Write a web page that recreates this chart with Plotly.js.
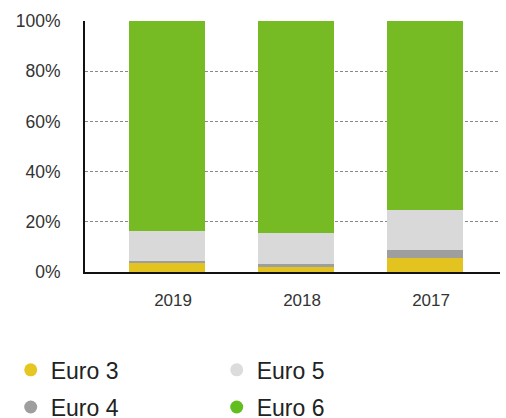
<!DOCTYPE html>
<html>
<head>
<meta charset="utf-8">
<script src="https://cdn.plot.ly/plotly-3.0.1.min.js"></script>
<style>html,body{margin:0;padding:0;background:#fff;}#chart{width:506px;height:418px;}</style>
</head>
<body>
<div id="chart"></div>
<script>
const years = ['2019', '2018', '2017'];
const euro3 = [3.7, 2.0, 5.7];
const euro4 = [0.8, 1.2, 3.1];
const euro5 = [11.9, 12.3, 16.0];
const euro6 = [83.6, 84.5, 75.2];
const seriesNames = ['Euro 3', 'Euro 4', 'Euro 5', 'Euro 6'];
const barColors = ['#E3C31F', '#9E9E9E', '#D9D9D9', '#76BA24'];
const legendColors = ['#E6C623', '#9E9E9E', '#DCDCDC', '#62BD1E'];
const legendIds = ['legend', 'legend2', 'legend', 'legend2'];
const values = [euro3, euro4, euro5, euro6];

const traces = [];
values.forEach((v, i) => {
  traces.push({
    type: 'bar', x: years, y: v, name: seriesNames[i],
    marker: {color: barColors[i], line: {width: 0}},
    showlegend: false, hoverinfo: 'skip'
  });
});
values.forEach((v, i) => {
  traces.push({
    type: 'scatter', mode: 'markers', x: [null], y: [null], name: seriesNames[i],
    marker: {color: legendColors[i], size: 13, symbol: 'circle'},
    legend: legendIds[i], showlegend: true, hoverinfo: 'skip'
  });
});

const legendFont = {family: 'Liberation Sans, Arial, sans-serif', size: 23, color: '#222'};
const layout = {
  width: 506, height: 418,
  margin: {l: 85, r: 6, t: 21, b: 146, autoexpand: false},
  paper_bgcolor: '#fff', plot_bgcolor: '#fff',
  barmode: 'stack', bargap: 0.41,
  hovermode: false,
  font: {family: 'Liberation Sans, Arial, sans-serif', color: '#333'},
  xaxis: {
    type: 'category', range: [-0.636, 2.581],
    showline: true, linecolor: '#111', linewidth: 2,
    showgrid: false, zeroline: false, ticks: '',
    tickfont: {size: 17, color: '#333'},
    ticklabelstandoff: 12, ticklabelshift: 6
  },
  yaxis: {
    range: [0, 100], dtick: 20, ticksuffix: '%',
    showline: true, linecolor: '#111', linewidth: 2,
    showgrid: true, gridcolor: '#888', gridwidth: 1, griddash: '3px,2px',
    zeroline: false, ticks: '',
    tickfont: {size: 17.5, color: '#333'},
    ticklabelstandoff: 19
  },
  legend: {
    orientation: 'h', traceorder: 'normal', x: -0.179, xanchor: 'left', y: -0.39, yanchor: 'middle',
    entrywidth: 161, entrywidthmode: 'pixels', font: legendFont,
    bgcolor: 'rgba(0,0,0,0)', borderwidth: 0
  },
  legend2: {
    orientation: 'h', traceorder: 'normal', x: -0.179, xanchor: 'left', y: -0.538, yanchor: 'middle',
    entrywidth: 161, entrywidthmode: 'pixels', font: legendFont,
    bgcolor: 'rgba(0,0,0,0)', borderwidth: 0
  }
};

Plotly.newPlot('chart', traces, layout, {displayModeBar: false, staticPlot: true});
</script>
</body>
</html>
